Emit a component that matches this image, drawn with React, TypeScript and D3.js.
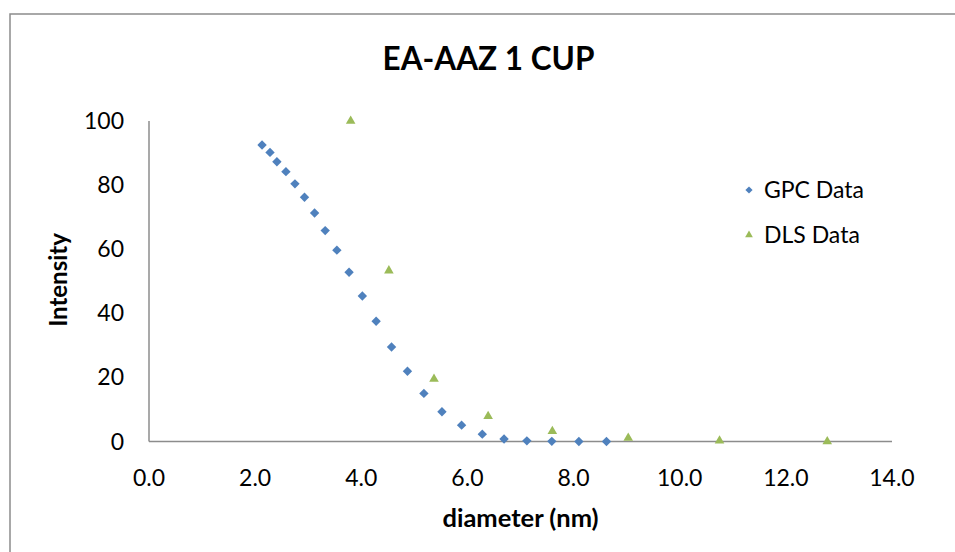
import React from "react";
import * as d3 from "d3";

// GPC diameters (nm) and intensity
const gpcX = [2.13, 2.28, 2.41, 2.58, 2.75, 2.93, 3.12, 3.32, 3.54, 3.77, 4.02, 4.28, 4.57, 4.87, 5.18, 5.52, 5.89, 6.28, 6.69, 7.12, 7.59, 8.1, 8.62];
const gpcY = [92.5, 90.2, 87.3, 84.2, 80.4, 76.2, 71.3, 65.8, 59.7, 52.8, 45.4, 37.5, 29.5, 21.9, 15.0, 9.3, 5.1, 2.3, 0.8, 0.2, 0.05, 0.01, 0];

// DLS diameters (nm) and intensity
const dlsX = [3.8, 4.52, 5.37, 6.39, 7.6, 9.03, 10.75, 12.78];
const dlsY = [100, 53.3, 19.5, 7.9, 3.2, 1.1, 0.25, 0];

const xTicks = [0, 2, 4, 6, 8, 10, 12, 14];
const yTicks = [0, 20, 40, 60, 80, 100];

const seriesNames = ["GPC Data", "DLS Data"];
const colors = ["#4f81bd", "#9bbb59"];

const W = 955;
const H = 552;
const font = "Lato, 'Open Sans', sans-serif";

export default function App() {
  const x = d3.scaleLinear().domain([0, 14]).range([149, 892]);
  const y = d3.scaleLinear().domain([0, 100]).range([441.5, 121]);

  const diamond = d3.symbol(d3.symbolSquare, 44)();
  const triangle = d3.symbol(d3.symbolTriangle, 40)();
  const smallDiamond = d3.symbol(d3.symbolSquare, 26)();
  const smallTriangle = d3.symbol(d3.symbolTriangle, 26)();

  return (
    <div style={{ position: "fixed", left: 0, top: 0 }}>
      <svg width={W} height={H} style={{ display: "block", background: "#fff" }}>
        {/* chart frame */}
        <rect x={10} y={14} width={980} height={560} fill="#fff" stroke="#8c8c8c" strokeWidth={1.5} />

        <text x={488.5} y={69.5} textAnchor="middle" fontFamily={font} fontWeight="bold" fontSize={31.5} fill="#000">
          EA-AAZ 1 CUP
        </text>

        {/* axes */}
        <line x1={x(0)} x2={x(0)} y1={y(100)} y2={y(0)} stroke="#8c8c8c" strokeWidth={1.5} />
        <line x1={x(0)} x2={x(14)} y1={y(0)} y2={y(0)} stroke="#8c8c8c" strokeWidth={1.5} />

        {yTicks.map((t) => (
          <text key={t} x={124} y={y(t)} dy="0.35em" textAnchor="end" fontFamily={font} fontSize={23} fill="#000">
            {t}
          </text>
        ))}
        {xTicks.map((t) => (
          <text key={t} x={x(t)} y={485.5} textAnchor="middle" fontFamily={font} fontSize={23} fill="#000">
            {d3.format(".1f")(t)}
          </text>
        ))}

        <text x={520.5} y={527} textAnchor="middle" fontFamily={font} fontWeight="bold" fontSize={25.5} fill="#000">
          diameter (nm)
        </text>
        <text transform="translate(67,280) rotate(-90)" textAnchor="middle" fontFamily={font} fontWeight="bold" fontSize={24} fill="#000">
          Intensity
        </text>

        {/* series */}
        {gpcX.map((v, i) => (
          <path key={"g" + i} d={diamond} transform={`translate(${x(v)},${y(gpcY[i])}) rotate(45)`} fill={colors[0]} />
        ))}
        {dlsX.map((v, i) => (
          <path key={"d" + i} d={triangle} transform={`translate(${x(v)},${y(dlsY[i])})`} fill={colors[1]} />
        ))}

        {/* legend */}
        <path d={smallDiamond} transform="translate(749,190) rotate(45)" fill={colors[0]} />
        <text x={764} y={197.5} fontFamily={font} fontSize={23} fill="#000">{seriesNames[0]}</text>
        <path d={smallTriangle} transform="translate(749,235)" fill={colors[1]} />
        <text x={764} y={242.5} fontFamily={font} fontSize={23} fill="#000">{seriesNames[1]}</text>
      </svg>
    </div>
  );
}
